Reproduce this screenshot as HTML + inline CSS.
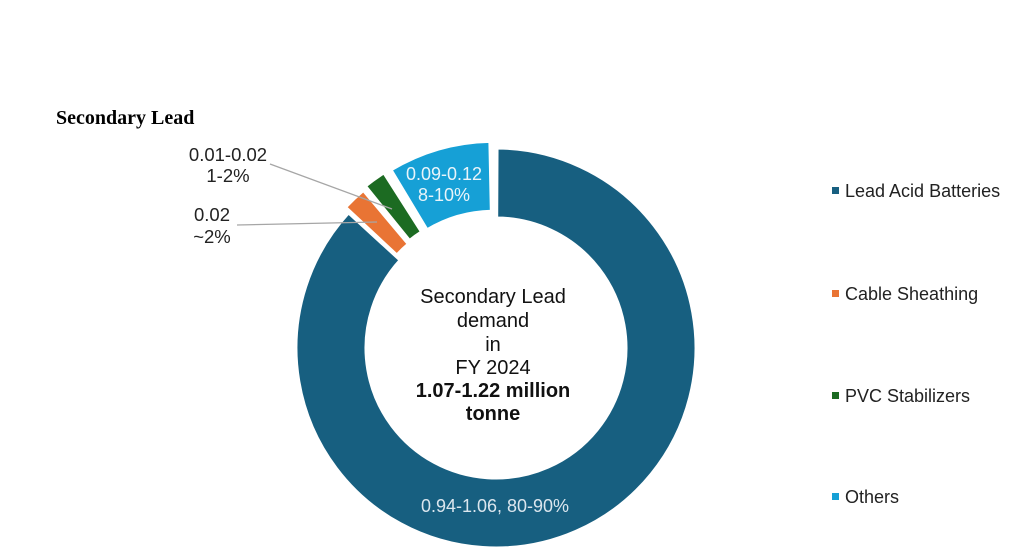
<!DOCTYPE html>
<html><head><meta charset="utf-8"><style>
body{margin:0;background:#fff;}
svg{display:block;font-family:"Liberation Sans",sans-serif;}
</style></head><body>
<svg id="s" width="1024" height="554" viewBox="0 0 1024 554">
<text x="56" y="124" font-family="Liberation Serif,serif" font-weight="bold" font-size="20" fill="#000">Secondary Lead</text>
<g id="slices"></g>
<line x1="270" y1="164" x2="392" y2="209" stroke="#a6a6a6" stroke-width="1.3"/>
<line x1="237" y1="225" x2="377" y2="222" stroke="#a6a6a6" stroke-width="1.3"/>
<g font-size="18.5" text-anchor="middle" fill="#222">
<text x="228" y="161">0.01-0.02</text>
<text x="228" y="182">1-2%</text>
<text x="212" y="221">0.02</text>
<text x="212" y="243">~2%</text>
</g>
<g font-size="18" text-anchor="middle">
<text x="444" y="180" fill="#e8f4fa">0.09-0.12</text>
<text x="444" y="201" fill="#e8f4fa">8-10%</text>
<text x="495" y="512" fill="#dbe6ee">0.94-1.06, 80-90%</text>
</g>
<g font-size="20" text-anchor="middle" fill="#111">
<text x="493" y="303">Secondary Lead</text>
<text x="493" y="327">demand</text>
<text x="493" y="351">in</text>
<text x="493" y="374">FY 2024</text>
<text x="493" y="397" font-weight="bold">1.07-1.22 million</text>
<text x="493" y="420" font-weight="bold">tonne</text>
</g>
<g font-size="18" fill="#222">
<rect x="832" y="187" width="7" height="7" fill="#175f80"/><text x="845" y="197">Lead Acid Batteries</text>
<rect x="832" y="290" width="7" height="7" fill="#e97434"/><text x="845" y="300">Cable Sheathing</text>
<rect x="832" y="392" width="7" height="7" fill="#1c6b22"/><text x="845" y="402">PVC Stabilizers</text>
<rect x="832" y="493" width="7" height="7" fill="#16a0d6"/><text x="845" y="503">Others</text>
</g>
</svg>
<script>
var cx=496,cy=348,R=200,r=130;
function pt(a,rad,o,m){var t=(a-90)*Math.PI/180,tm=(m-90)*Math.PI/180;return [cx+o*Math.cos(tm)+rad*Math.cos(t),cy+o*Math.sin(tm)+rad*Math.sin(t)];}
function arc(a0,a1,o,col){var m=(a0+a1)/2,l=(a1-a0)>180?1:0;
var p1=pt(a0,R,o,m),p2=pt(a1,R,o,m),p3=pt(a1,r,o,m),p4=pt(a0,r,o,m);
return '<path d="M'+p1+' A'+R+','+R+' 0 '+l+' 1 '+p2+' L'+p3+' A'+r+','+r+' 0 '+l+' 0 '+p4+' Z" fill="'+col+'" stroke="#fff" stroke-width="3"/>';}
document.getElementById('slices').innerHTML=
arc(0.3,312.5,0,'#175f80')+arc(313,320,6,'#e97434')+arc(321,327.5,8,'#1c6b22')+arc(329,358.8,7,'#16a0d6');
</script>
</body></html>
